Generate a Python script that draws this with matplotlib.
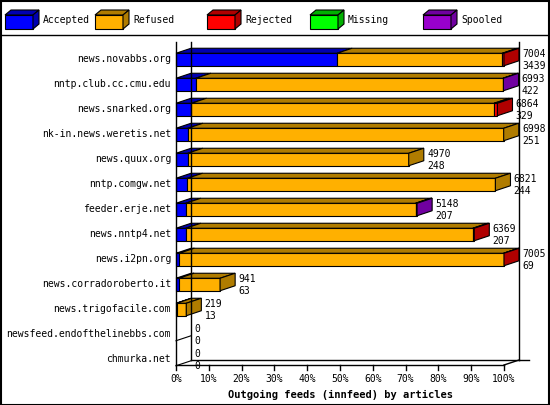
import matplotlib.pyplot as plt
from matplotlib.patches import Polygon

hosts = ["news.novabbs.org", "nntp.club.cc.cmu.edu", "news.snarked.org",
         "nk-in.news.weretis.net", "news.quux.org", "nntp.comgw.net",
         "feeder.erje.net", "news.nntp4.net", "news.i2pn.org",
         "news.corradoroberto.it", "news.trigofacile.com",
         "newsfeed.endofthelinebbs.com", "chmurka.net"]
offered = [7004, 6993, 6864, 6998, 4970, 6821, 5148, 6369, 7005, 941, 219, 0, 0]
accepted = [3439, 422, 329, 251, 248, 244, 207, 207, 69, 63, 13, 0, 0]
rejected = [35, 0, 70, 0, 0, 0, 20, 30, 10, 0, 0, 0, 0]
missing = [0] * 13
spooled = [0, 10, 0, 0, 0, 0, 12, 0, 0, 0, 0, 0, 0]
refused = [o - a - r - m - s for o, a, r, m, s in zip(offered, accepted, rejected, missing, spooled)]

names = ["Accepted", "Refused", "Rejected", "Missing", "Spooled"]
front = ["#0000ff", "#ffb000", "#ff0000", "#00ff00", "#9900cc"]
dark = ["#0000b0", "#b07c00", "#b00000", "#00b000", "#7000a0"]

fig = plt.figure(figsize=(5.5, 4.05), dpi=100)
ax = fig.add_axes([0, 0, 1, 1])
# x: percent of largest feed, y: row index
ax.set_xlim(-176 / 3.28, (550 - 176) / 3.28)
ax.set_ylim(13.82, -2.38)
ax.axis("off")
mono = "DejaVu Sans Mono"
fs = 7
dx, dy, h = 4.6, 0.2, 0.25
top, floor = -0.7, 12.22

# frame
ax.plot([dx, dx], [top, floor - dy], color="k", lw=1)
ax.plot([0, 0], [top, floor], color="k", lw=1)
ax.plot([dx, 100 + dx], [floor - dy, floor - dy], color="k", lw=1)
ax.plot([100 + dx, 100 + dx], [top, floor - dy], color="k", lw=1)
ax.plot([0, 100], [floor, floor], color="k", lw=1)
ax.plot([100, 100 + dx], [floor, floor - dy], color="k", lw=1)
ax.plot([100 + dx, 100 + dx + 3], [floor - dy, floor - dy], color="k", lw=1)
for t in range(0, 101, 10):
    ax.plot([t, t], [floor, floor + 0.2], color="k", lw=1)
    ax.text(t, floor + 0.35, f"{t}%", ha="center", va="top", fontsize=fs, family=mono)
ax.text(50, floor + 1.0, "Outgoing feeds (innfeed) by articles", ha="center", va="top",
        fontsize=7.5, family=mono, weight="bold")

mx = max(offered)
for i, host in enumerate(hosts):
    ax.text(-1.5, i, host, ha="right", va="center", fontsize=fs, family=mono)
    segs = [accepted[i], refused[i], rejected[i], missing[i], spooled[i]]
    x = 0
    last = None
    for k, v in enumerate(segs):
        if v <= 0:
            continue
        w = v * 100 / mx
        ax.add_patch(Polygon([(x, i - h), (x + w, i - h), (x + w, i + h), (x, i + h)],
                             fc=front[k], ec="k", lw=0.8))
        ax.add_patch(Polygon([(x, i - h), (x + w, i - h), (x + w + dx, i - h - dy), (x + dx, i - h - dy)],
                             fc=dark[k], ec="k", lw=0.8))
        x += w
        last = k
    if last is not None:
        ax.add_patch(Polygon([(x, i - h), (x + dx, i - h - dy), (x + dx, i + h - dy), (x, i + h)],
                             fc=dark[last], ec="k", lw=0.8))
    else:
        ax.plot([0, dx], [i + h, i + h - dy], color="k", lw=0.8)
    ax.text(x + dx + 1, i - 0.22, str(offered[i]), ha="left", va="center", fontsize=fs, family=mono)
    ax.text(x + dx + 1, i + 0.25, str(accepted[i]), ha="left", va="center", fontsize=fs, family=mono)

# legend band
fig.add_artist(plt.Line2D([0, 1], [1 - 35 / 405, 1 - 35 / 405], color="k", lw=1))
lx = [5, 95, 207, 310, 423]
for k, name in enumerate(names):
    x0 = lx[k] / 550
    w, hh, ox, oy = 28 / 550, 14 / 405, 6 / 550, 5 / 405
    y0 = 1 - 29 / 405
    fig.add_artist(Polygon([(x0, y0), (x0 + w, y0), (x0 + w, y0 + hh), (x0, y0 + hh)],
                           fc=front[k], ec="k", lw=0.8, transform=fig.transFigure))
    fig.add_artist(Polygon([(x0, y0 + hh), (x0 + w, y0 + hh), (x0 + w + ox, y0 + hh + oy), (x0 + ox, y0 + hh + oy)],
                           fc=dark[k], ec="k", lw=0.8, transform=fig.transFigure))
    fig.add_artist(Polygon([(x0 + w, y0), (x0 + w + ox, y0 + oy), (x0 + w + ox, y0 + hh + oy), (x0 + w, y0 + hh)],
                           fc=dark[k], ec="k", lw=0.8, transform=fig.transFigure))
    fig.text(x0 + 38 / 550, 1 - 20 / 405, name, ha="left", va="center", fontsize=fs, family=mono)

fig.add_artist(plt.Rectangle((0.001, 0.001), 0.997, 0.997, fill=False, ec="k", lw=1.5,
                             transform=fig.transFigure))
fig.savefig("out.png", dpi=100)
